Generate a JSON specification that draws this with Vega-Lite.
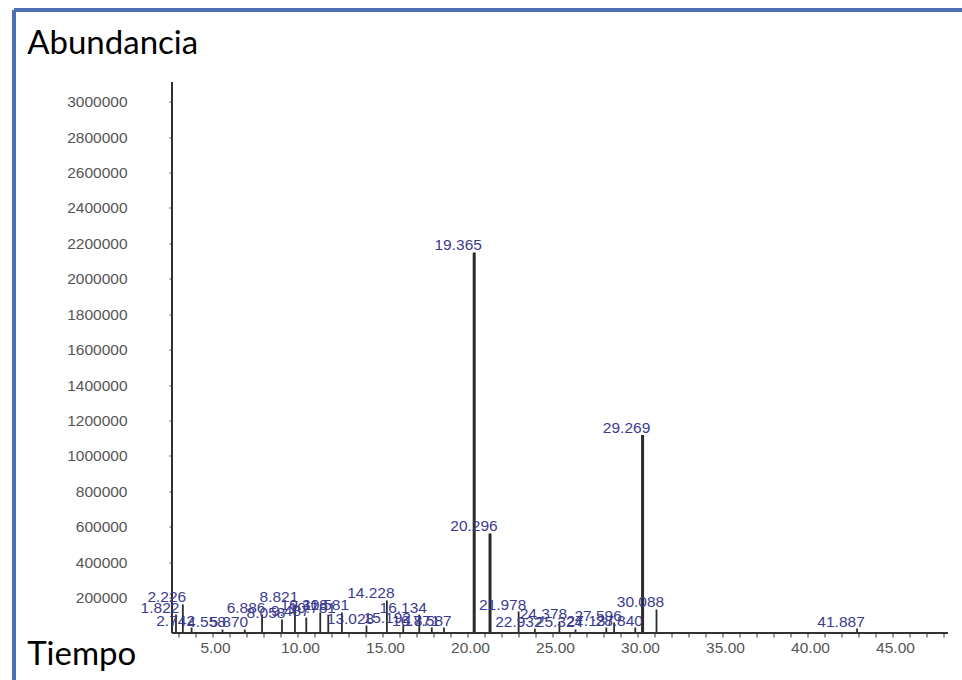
{
  "$schema": "https://vega.github.io/schema/vega-lite/v6.json",
  "width": 948.5,
  "height": 670.5,
  "autosize": {"type": "none"},
  "padding": {"left": 13.5, "top": 9.5, "right": 0, "bottom": 0},
  "background": "white",
  "config": {
    "view": {"stroke": "transparent", "strokeWidth": 0},
    "axis": {"grid": false},
    "axisRight": {"domain": false, "ticks": false, "labels": false, "titleOpacity": 0}
  },
  "data": {
    "values": [
      {"rt": 1.822, "abund": 104000},
      {"rt": 2.226, "abund": 161000},
      {"rt": 2.742, "abund": 31000},
      {"rt": 4.558, "abund": 20000},
      {"rt": 5.870, "abund": 20000},
      {"rt": 6.886, "abund": 104000},
      {"rt": 8.058, "abund": 76000},
      {"rt": 8.821, "abund": 161000},
      {"rt": 9.487, "abund": 87000},
      {"rt": 10.308, "abund": 116000},
      {"rt": 10.781, "abund": 104000},
      {"rt": 11.581, "abund": 116000},
      {"rt": 13.028, "abund": 42000},
      {"rt": 14.228, "abund": 184000},
      {"rt": 15.192, "abund": 45000},
      {"rt": 16.134, "abund": 104000},
      {"rt": 16.871, "abund": 31000},
      {"rt": 17.587, "abund": 31000},
      {"rt": 19.365, "abund": 2149000},
      {"rt": 20.296, "abund": 562000},
      {"rt": 21.978, "abund": 121000},
      {"rt": 22.932, "abund": 25000},
      {"rt": 24.378, "abund": 65000},
      {"rt": 25.324, "abund": 20000},
      {"rt": 27.137, "abund": 31000},
      {"rt": 27.596, "abund": 59000},
      {"rt": 28.840, "abund": 31000},
      {"rt": 29.269, "abund": 1118000},
      {"rt": 30.088, "abund": 133000},
      {"rt": 41.887, "abund": 25000}
    ]
  },
  "resolve": {"axis": {"x": "independent", "y": "independent"}},
  "layer": [
    {
      "mark": {"type": "rule", "color": "#2b2b2b"},
      "encoding": {
        "x": {
          "field": "rt",
          "type": "quantitative",
          "scale": {"domain": [-7.735, 48.059], "nice": false, "zero": false},
          "axis": {
            "orient": "bottom",
            "offset": -47,
            "domain": false,
            "values": [2,3,4,5,6,7,8,9,10,11,12,13,14,15,16,17,18,19,20,21,22,23,24,25,26,27,28,29,30,31,32,33,34,35,36,37,38,39,40,41,42,43,44,45,46,47],
            "labelExpr": "datum.value % 5 === 0 ? format(datum.value, '.2f') : ''",
            "tickSize": 4,
            "tickColor": "#333333",
            "tickWidth": 1,
            "labelFont": "Liberation Sans",
            "labelFontSize": 15.5,
            "labelColor": "#555555",
            "labelOffset": -15,
            "labelPadding": 3,
            "labelFlush": false,
            "labelOverlap": false,
            "labelBound": false,
            "title": "Tiempo",
            "titleFont": "Lato",
            "titleFontSize": 33,
            "titleFontWeight": "normal",
            "titleColor": "#000000",
            "titleAngle": 0,
            "titleX": 13.2,
            "titleY": 31.5,
            "titleAlign": "left",
            "titleBaseline": "alphabetic"
          }
        },
        "y": {
          "field": "abund",
          "type": "quantitative",
          "scale": {"domain": [-265400, 3520600], "nice": false, "zero": false},
          "axis": {
            "orient": "left",
            "offset": -158.5,
            "domain": false,
            "values": [200000,400000,600000,800000,1000000,1200000,1400000,1600000,1800000,2000000,2200000,2400000,2600000,2800000,3000000],
            "format": "d",
            "tickSize": 3,
            "tickColor": "#444444",
            "labelPadding": 42,
            "labelFont": "Liberation Sans",
            "labelFontSize": 15.5,
            "labelColor": "#555555",
            "labelOverlap": false,
            "title": "Abundancia",
            "titleFont": "Lato",
            "titleFontSize": 33,
            "titleFontWeight": "normal",
            "titleColor": "#000000",
            "titleAngle": 0,
            "titleX": -145.3,
            "titleY": 43.8,
            "titleAlign": "left",
            "titleBaseline": "alphabetic"
          }
        },
        "y2": {"datum": 0},
        "strokeWidth": {"condition": {"test": "datum.abund > 400000", "value": 3}, "value": 1.8}
      }
    },
    {
      "mark": {"type": "rule", "color": "#333333", "strokeWidth": 1.2},
      "encoding": {
        "x": {"datum": 1.59, "type": "quantitative", "axis": null},
        "x2": {"datum": 47.2},
        "y": {"datum": 0, "type": "quantitative", "axis": null}
      }
    },
    {
      "mark": {"type": "rule", "color": "#333333", "strokeWidth": 1.2},
      "encoding": {
        "x": {"datum": 1.59, "type": "quantitative", "axis": null},
        "y": {"datum": 0, "type": "quantitative", "axis": null},
        "y2": {"datum": 3111000}
      }
    },
    {
      "mark": {"type": "text", "font": "Liberation Sans", "fontSize": 15.5, "color": "#3b3b8f", "dx": -16, "dy": -2, "baseline": "alphabetic", "align": "center"},
      "encoding": {
        "x": {
          "field": "rt",
          "type": "quantitative",
          "axis": {"orient": "top", "labels": false, "ticks": false, "domainColor": "#4a6fb5", "domainWidth": 4, "title": null}
        },
        "y": {
          "field": "abund",
          "type": "quantitative",
          "axis": {"orient": "left", "offset": 0, "labels": false, "ticks": false, "domainColor": "#4a6fb5", "domainWidth": 4, "title": null}
        },
        "text": {"field": "rt", "type": "quantitative", "format": ".3f"}
      }
    }
  ]
}
